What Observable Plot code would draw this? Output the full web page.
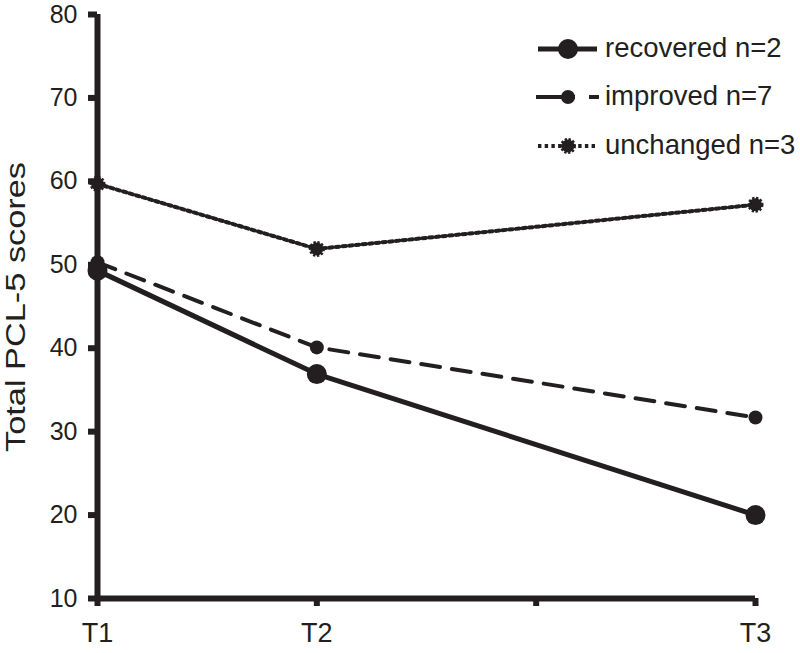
<!DOCTYPE html>
<html>
<head>
<meta charset="utf-8">
<script src="https://cdn.jsdelivr.net/npm/d3@7"></script>
<script src="https://cdn.jsdelivr.net/npm/@observablehq/plot@0.6"></script>
<style>
  html, body { margin: 0; padding: 0; background: #fff; }
  #chart { width: 800px; height: 653px; }
</style>
</head>
<body>
<div id="chart"></div>
<script>
// ---- data ----
const timePositions = [0, 1, 3];              // T1, T2, T3 on the time axis
const xTickValues = [0, 1, 2, 3];
const xTickLabels = ["T1", "T2", "", "T3"];
const yTickValues = [10, 20, 30, 40, 50, 60, 70, 80];
const seriesNames = ["recovered n=2", "improved n=7", "unchanged n=3"];
const recovered = [49.3, 36.9, 20.0];
const improved = [50.3, 40.1, 31.7];
const unchanged = [59.7, 51.9, 57.2];
const yLabel = "Total PCL-5 scores";

const ink = "#231f20";
const font = "'Liberation Sans', Arial, Helvetica, sans-serif";

const toRows = (vals) => timePositions.map((t, i) => ({ t, v: vals[i] }));
const recRows = toRows(recovered);
const impRows = toRows(improved);
const uncRows = toRows(unchanged);

const chart = Plot.plot({
  width: 800,
  height: 653,
  marginLeft: 97,
  marginRight: 45,
  marginTop: 14,
  marginBottom: 55,
  style: { fontFamily: font, color: ink, background: "#fff", overflow: "visible", fontSize: "25px" },
  x: { domain: [0, 3] },
  y: { domain: [10, 80] },
  marks: [
    Plot.axisY({ ticks: yTickValues, tickSize: 9, tickPadding: 11, label: null, stroke: ink, fill: ink }),
    Plot.axisX({ ticks: xTickValues, tickFormat: (d) => xTickLabels[xTickValues.indexOf(d)], tickSize: 8, tickPadding: 16, label: null, stroke: ink, fill: ink }),
    Plot.ruleX([0], { stroke: ink }),
    Plot.ruleY([10], { stroke: ink }),
    // unchanged (dotted)
    Plot.line(uncRows, { x: "t", y: "v", stroke: ink, strokeWidth: 4, strokeDasharray: "3.4 3.3" }),
    Plot.dot(uncRows, { x: "t", y: "v", r: 6.5, fill: ink, stroke: ink, strokeWidth: 3, strokeDasharray: "2.2 1.6" }),
    // improved (dashed)
    Plot.line(impRows, { x: "t", y: "v", stroke: ink, strokeWidth: 4, strokeDasharray: "19 12" }),
    Plot.dot(impRows, { x: "t", y: "v", r: 7, fill: ink, stroke: "none" }),
    // recovered (solid)
    Plot.line(recRows, { x: "t", y: "v", stroke: ink, strokeWidth: 5 }),
    Plot.dot(recRows, { x: "t", y: "v", r: 10, fill: ink, stroke: "none" })
  ]
});

document.getElementById("chart").appendChild(chart);

const svg = d3.select(chart);

// axis styling
svg.selectAll('g[aria-label="y-axis tick"], g[aria-label="x-axis tick"]')
  .attr("stroke-width", 6).attr("stroke", ink);
svg.selectAll('g[aria-label="y-axis tick"] path, g[aria-label="x-axis tick"] path, g[aria-label="y-axis tick"] line, g[aria-label="x-axis tick"] line')
  .attr("stroke-width", 6);
svg.selectAll('g[aria-label="y-axis tick label"]').attr("font-size", 25);
svg.selectAll('g[aria-label="x-axis tick label"]').attr("font-size", 27);
svg.selectAll('g[aria-label="rule"]').attr("stroke-width", 6);
svg.selectAll('g[aria-label="rule"] line').attr("stroke-width", 6);

// enforce line styles (unchanged, improved, recovered in draw order)
const lineStyles = [
  { w: 4, dash: "3.4 3.3" },
  { w: 4, dash: "19 12" },
  { w: 5, dash: null }
];
svg.selectAll('g[aria-label="line"]').each(function (_, i) {
  const s = lineStyles[i];
  if (!s) return;
  d3.select(this).selectAll("path")
    .attr("stroke-width", s.w)
    .attr("stroke-dasharray", s.dash)
    .attr("fill", "none")
    .attr("stroke", ink);
});

// y-axis title
svg.append("text")
  .attr("transform", "translate(25,307) rotate(-90)")
  .attr("text-anchor", "middle")
  .attr("font-family", font)
  .attr("font-size", 27)
  .attr("fill", ink)
  .attr("textLength", 290)
  .attr("lengthAdjust", "spacingAndGlyphs")
  .text(yLabel);

// legend
const legendRows = [49, 97, 146];
const lg = svg.append("g").attr("text-anchor", "start");
// recovered sample
lg.append("line").attr("x1", 538).attr("x2", 597).attr("y1", legendRows[0]).attr("y2", legendRows[0])
  .attr("stroke", ink).attr("stroke-width", 5);
lg.append("circle").attr("cx", 568).attr("cy", legendRows[0]).attr("r", 10).attr("fill", ink);
// improved sample
lg.append("line").attr("x1", 536).attr("x2", 599).attr("y1", legendRows[1]).attr("y2", legendRows[1])
  .attr("stroke", ink).attr("stroke-width", 4).attr("stroke-dasharray", "39 14 10");
lg.append("circle").attr("cx", 568).attr("cy", legendRows[1]).attr("r", 7).attr("fill", ink);
// unchanged sample
lg.append("line").attr("x1", 538).attr("x2", 598).attr("y1", legendRows[2]).attr("y2", legendRows[2])
  .attr("stroke", ink).attr("stroke-width", 4).attr("stroke-dasharray", "3.4 3.3");
lg.append("circle").attr("cx", 568).attr("cy", legendRows[2]).attr("r", 6.5).attr("fill", ink)
  .attr("stroke", ink).attr("stroke-width", 3).attr("stroke-dasharray", "2.2 1.6");

seriesNames.forEach((name, i) => {
  lg.append("text")
    .attr("x", 605)
    .attr("y", legendRows[i] + 8)
    .attr("text-anchor", "start")
    .attr("font-family", font)
    .attr("font-size", 27.5)
    .attr("fill", ink)
    .text(name);
});
</script>
</body>
</html>
